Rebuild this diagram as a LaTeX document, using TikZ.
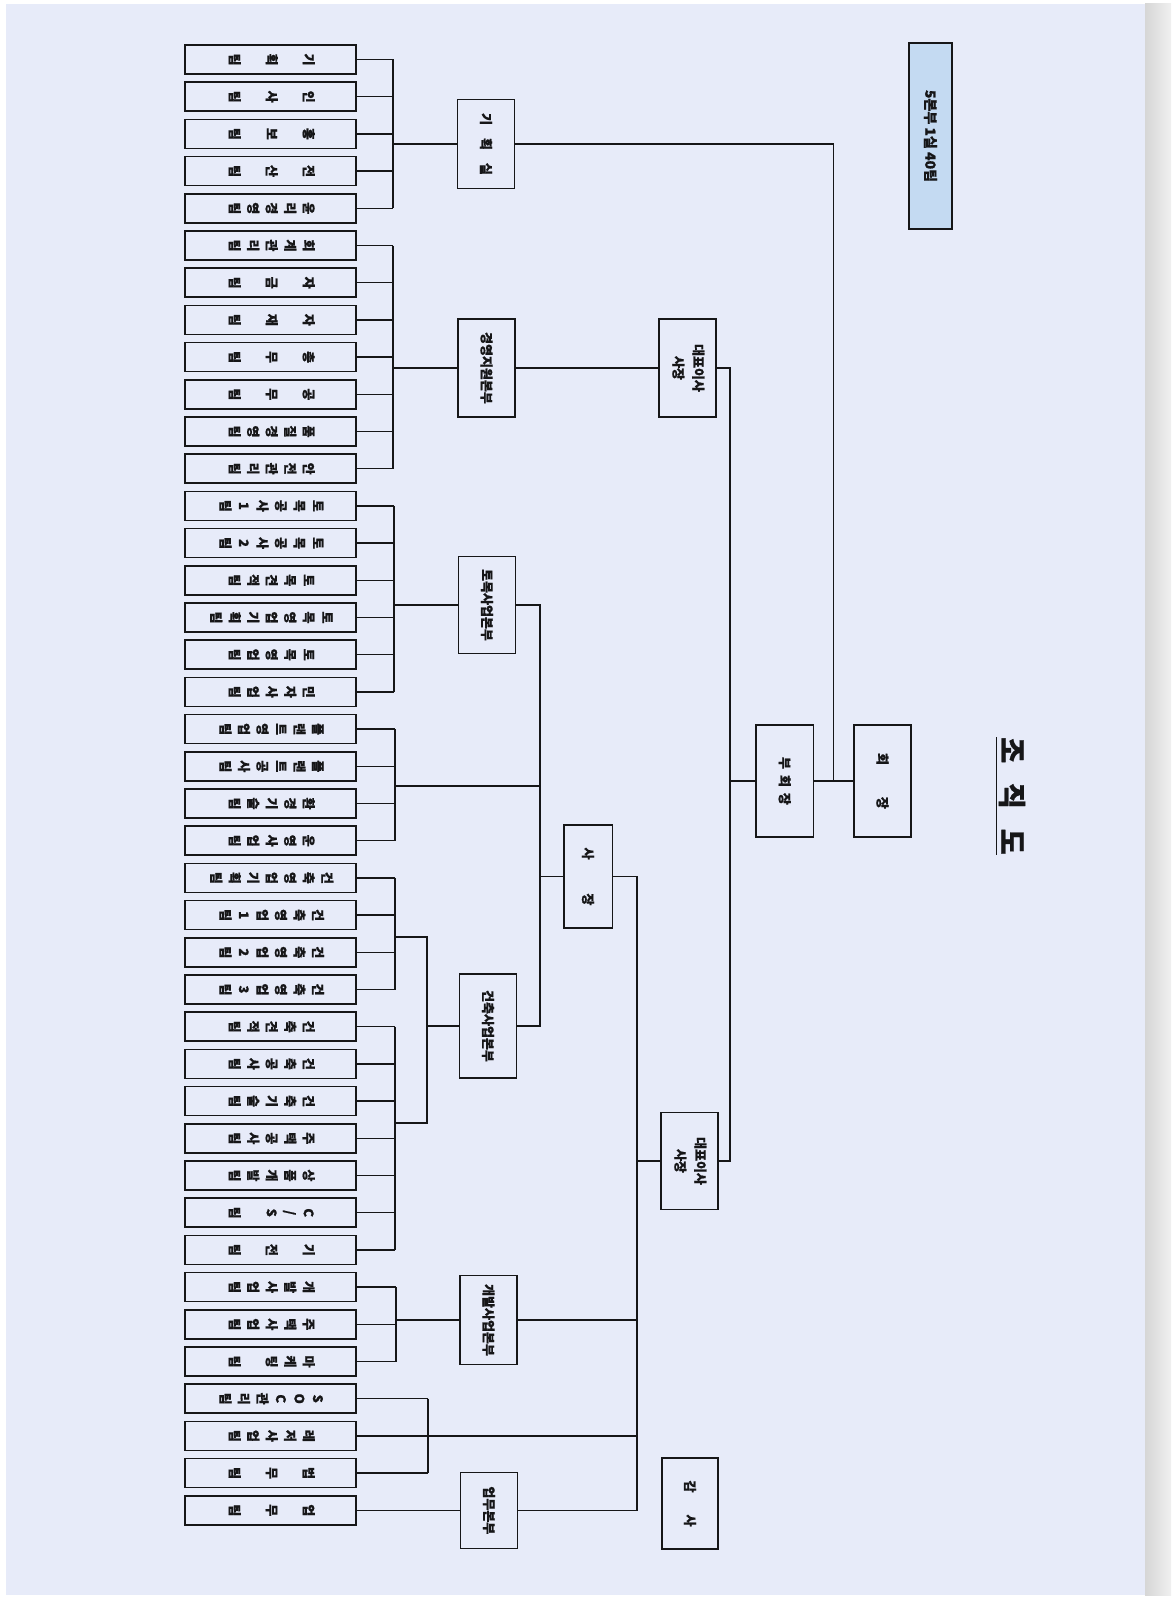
\documentclass[tikz,border=0pt]{standalone}
\usepackage{fontspec}
\usepackage{graphicx}
\setmainfont{Noto Sans CJK KR}
\newfontfamily\kr{Noto Sans CJK KR}[BoldFeatures={FakeBold=1}]
\definecolor{paper}{RGB}{231,235,249}
\definecolor{inkc}{RGB}{22,22,24}
\definecolor{sumblue}{RGB}{196,218,242}
\newcommand\rt[1]{\rotatebox{-90}{#1}}
\newcommand\lt[1]{\rotatebox{-90}{\begin{tabular}{@{}c@{}}#1\end{tabular}}}
\tikzset{
  box/.style={draw=inkc, line width=0.8pt, inner sep=0pt, fill=paper,
    font=\kr\bfseries\fontsize{6.5}{9.25}\selectfont, text=inkc},
  leaf/.style={box, minimum width=85.5pt, minimum height=14.5pt},
  mid/.style={box, minimum width=28.5pt},
  link/.style={draw=inkc, line width=0.7pt},
}
\begin{document}
\begin{tikzpicture}[x=0.5pt,y=-0.5pt]
\useasboundingbox (0,0) rectangle (1174,1600);
\fill[white] (0,0) rectangle (1174,1600);
\fill[paper] (6,4) rectangle (1145,1595);
\shade[left color=black!16, right color=black!6] (1145,4) rectangle (1171,1595);

% title and summary
\node[font=\kr\bfseries\fontsize{14}{16}\selectfont, text=inkc, inner sep=0pt] (title) at (1010,796)
  {\rt{\underline{조\hspace{10pt}직\hspace{10pt}도}}};
\node[box, fill=sumblue, minimum width=21.5pt, minimum height=93pt,
  font=\kr\bfseries\fontsize{7}{9}\selectfont] (sum) at (930.5,136) {\rt{5본부 1실 40팀}};

% leaves
\node[leaf] (l1) at (270.5,59.5) {\lt{기\\ \\획\\ \\팀}};
\node[leaf] (l2) at (270.5,96.7) {\lt{인\\ \\사\\ \\팀}};
\node[leaf] (l3) at (270.5,133.9) {\lt{홍\\ \\보\\ \\팀}};
\node[leaf] (l4) at (270.5,171.1) {\lt{전\\ \\산\\ \\팀}};
\node[leaf] (l5) at (270.5,208.3) {\lt{윤\\리\\경\\영\\팀}};
\node[leaf] (l6) at (270.5,245.5) {\lt{회\\계\\관\\리\\팀}};
\node[leaf] (l7) at (270.5,282.7) {\lt{자\\ \\금\\ \\팀}};
\node[leaf] (l8) at (270.5,319.9) {\lt{자\\ \\재\\ \\팀}};
\node[leaf] (l9) at (270.5,357.1) {\lt{총\\ \\무\\ \\팀}};
\node[leaf] (l10) at (270.5,394.3) {\lt{공\\ \\무\\ \\팀}};
\node[leaf] (l11) at (270.5,431.5) {\lt{품\\질\\경\\영\\팀}};
\node[leaf] (l12) at (270.5,468.7) {\lt{안\\전\\관\\리\\팀}};
\node[leaf] (l13) at (270.5,505.9) {\lt{토\\목\\공\\사\\1\\팀}};
\node[leaf] (l14) at (270.5,543.1) {\lt{토\\목\\공\\사\\2\\팀}};
\node[leaf] (l15) at (270.5,580.3) {\lt{토\\목\\견\\적\\팀}};
\node[leaf] (l16) at (270.5,617.5) {\lt{토\\목\\영\\업\\기\\획\\팀}};
\node[leaf] (l17) at (270.5,654.7) {\lt{토\\목\\영\\업\\팀}};
\node[leaf] (l18) at (270.5,691.9) {\lt{민\\자\\사\\업\\팀}};
\node[leaf] (l19) at (270.5,729.1) {\lt{플\\랜\\트\\영\\업\\팀}};
\node[leaf] (l20) at (270.5,766.3) {\lt{플\\랜\\트\\공\\사\\팀}};
\node[leaf] (l21) at (270.5,803.5) {\lt{환\\경\\기\\술\\팀}};
\node[leaf] (l22) at (270.5,840.7) {\lt{운\\영\\사\\업\\팀}};
\node[leaf] (l23) at (270.5,877.9) {\lt{건\\축\\영\\업\\기\\획\\팀}};
\node[leaf] (l24) at (270.5,915.1) {\lt{건\\축\\영\\업\\1\\팀}};
\node[leaf] (l25) at (270.5,952.3) {\lt{건\\축\\영\\업\\2\\팀}};
\node[leaf] (l26) at (270.5,989.5) {\lt{건\\축\\영\\업\\3\\팀}};
\node[leaf] (l27) at (270.5,1026.7) {\lt{건\\축\\견\\적\\팀}};
\node[leaf] (l28) at (270.5,1063.9) {\lt{건\\축\\공\\사\\팀}};
\node[leaf] (l29) at (270.5,1101.1) {\lt{건\\축\\기\\술\\팀}};
\node[leaf] (l30) at (270.5,1138.3) {\lt{주\\택\\공\\사\\팀}};
\node[leaf] (l31) at (270.5,1175.5) {\lt{상\\품\\개\\발\\팀}};
\node[leaf] (l32) at (270.5,1212.7) {\lt{C\\/\\S\\ \\팀}};
\node[leaf] (l33) at (270.5,1249.9) {\lt{기\\ \\전\\ \\팀}};
\node[leaf] (l34) at (270.5,1287.1) {\lt{개\\발\\사\\업\\팀}};
\node[leaf] (l35) at (270.5,1324.3) {\lt{주\\택\\사\\업\\팀}};
\node[leaf] (l36) at (270.5,1361.5) {\lt{마\\케\\팅\\ \\팀}};
\node[leaf] (l37) at (270.5,1398.7) {\lt{S\\O\\C\\관\\리\\팀}};
\node[leaf] (l38) at (270.5,1435.9) {\lt{레\\저\\사\\업\\팀}};
\node[leaf] (l39) at (270.5,1473.1) {\lt{법\\ \\무\\ \\팀}};
\node[leaf] (l40) at (270.5,1510.3) {\lt{업\\ \\무\\ \\팀}};

% divisions
\node[mid, minimum height=44.5pt] (gh) at (486,144) {\rt{기\hspace{6.5pt}획\hspace{6.5pt}실}};
\node[mid, minimum height=49pt] (gy) at (486.5,368) {\rt{경영지원본부}};
\node[mid, minimum height=48.5pt] (tm) at (487,605) {\rt{토목사업본부}};
\node[mid, minimum height=52pt] (gc) at (488,1026) {\rt{건축사업본부}};
\node[mid, minimum height=44.5pt] (gb) at (488.5,1320) {\rt{개발사업본부}};
\node[mid, minimum height=38pt] (ub) at (489,1510.3) {\rt{업무본부}};

% executives
\node[box, minimum width=28.5pt, minimum height=49pt,
  font=\kr\bfseries\fontsize{6.5}{10}\selectfont] (ceoA) at (687.5,368) {\lt{대표이사\\사장}};
\node[box, minimum width=28.5pt, minimum height=48.5pt,
  font=\kr\bfseries\fontsize{6.5}{10}\selectfont] (ceoB) at (689.5,1161) {\lt{대표이사\\사장}};
\node[box, minimum width=24.3pt, minimum height=51.5pt] (pres) at (588,876.5) {\rt{사\hspace{17pt}장}};
\node[box, minimum width=28.7pt, minimum height=56pt] (vchair) at (784.7,781) {\rt{부\hspace{3pt}회\hspace{3pt}장}};
\node[box, minimum width=28.4pt, minimum height=56pt] (chair) at (882.4,781) {\rt{회\hspace{16pt}장}};
\node[box, minimum width=28pt, minimum height=45.5pt] (audit) at (690,1503.5) {\rt{감\hspace{11pt}사}};

% junction columns
\coordinate (b1) at (393,0);
\coordinate (b3) at (394,0);
\coordinate (b4) at (395,0);
\coordinate (b5) at (395,0);
\coordinate (b5o) at (427,0);
\coordinate (b6) at (396,0);
\coordinate (b7) at (428,0);
\coordinate (pl) at (395,786);
\coordinate (ca) at (395,937);
\coordinate (cb) at (395,1123);
\coordinate (jL) at (540,0);
\coordinate (jR) at (637,0);
\coordinate (jC) at (730,0);
\coordinate (jT) at (833.7,0);

% brackets
\foreach \i in {1,...,5} {\draw[link] (l\i.east) -- (l\i.east -| b1);}
\draw[link] (l1.east -| b1) -- (l5.east -| b1);
\draw[link] (b1 |- gh.west) -- (gh.west);

\foreach \i in {6,...,12} {\draw[link] (l\i.east) -- (l\i.east -| b1);}
\draw[link] (l6.east -| b1) -- (l12.east -| b1);
\draw[link] (b1 |- gy.west) -- (gy.west);

\foreach \i in {13,...,18} {\draw[link] (l\i.east) -- (l\i.east -| b3);}
\draw[link] (l13.east -| b3) -- (l18.east -| b3);
\draw[link] (b3 |- tm.west) -- (tm.west);

\foreach \i in {19,...,22} {\draw[link] (l\i.east) -- (l\i.east -| b4);}
\draw[link] (l19.east -| b4) -- (l22.east -| b4);
\draw[link] (pl) -- (jL |- pl);

\foreach \i in {23,...,33} {\draw[link] (l\i.east) -- (l\i.east -| b5);}
\draw[link] (l23.east -| b5) -- (l26.east -| b5);
\draw[link] (l27.east -| b5) -- (l33.east -| b5);
\draw[link] (ca) -- (b5o |- ca) -- (b5o |- cb) -- (cb);
\draw[link] (b5o |- gc.west) -- (gc.west);

\foreach \i in {34,...,36} {\draw[link] (l\i.east) -- (l\i.east -| b6);}
\draw[link] (l34.east -| b6) -- (l36.east -| b6);
\draw[link] (b6 |- gb.west) -- (gb.west);

\foreach \i in {37,...,39} {\draw[link] (l\i.east) -- (l\i.east -| b7);}
\draw[link] (l37.east -| b7) -- (l39.east -| b7);
\draw[link] (b7 |- l38.east) -- (jR |- l38.east);

\draw[link] (l40.east) -- (ub.west);

% upper structure
\draw[link] (gh.east) -- (gh.east -| jT) -- (jT |- chair.west);
\draw[link] (vchair.east) -- (chair.west);
\draw[link] (gy.east) -- (ceoA.west);
\draw[link] (ceoA.east) -- (ceoA.east -| jC) -- (jC |- ceoB.east) -- (ceoB.east);
\draw[link] (jC |- vchair.west) -- (vchair.west);
\draw[link] (tm.east) -- (tm.east -| jL) -- (jL |- gc.east) -- (gc.east);
\draw[link] (pres.west) -- (pres.west -| jL);
\draw[link] (pres.east) -- (pres.east -| jR) -- (jR |- ub.east) -- (ub.east);
\draw[link] (ceoB.west) -- (ceoB.west -| jR);
\draw[link] (gb.east) -- (gb.east -| jR);
\end{tikzpicture}
\end{document}
